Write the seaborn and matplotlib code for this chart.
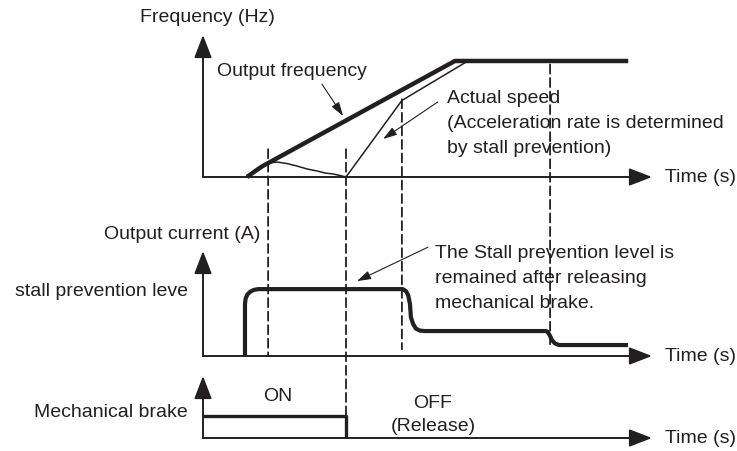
import matplotlib.pyplot as plt
from matplotlib.patches import ConnectionPatch
import seaborn as sns

sns.set_style("white")
plt.rcParams['font.family'] = ['Liberation Sans', 'DejaVu Sans']

INK = '#231f20'
W, H = 737, 452

# time runs 0..100 along every time axis
t_out = [9.8, 11.6, 13.1, 14.5, 56.1, 94.7]
f_out = [0, 5, 9, 12, 100, 100]

t_act = [14.5, 16.5, 18.7, 20.9, 23.2, 25.4, 27.2, 29.0, 30.5, 31.85, 44.3, 59.0]
f_act = [12, 12.9, 11.6, 9.5, 6.9, 5.2, 3.4, 2.6, 1.3, 0, 66, 100]

t_cur = [9.35, 9.35, 9.5, 9.9, 10.5, 11.3, 12.3, 44.5, 45.2, 45.7, 46.1, 46.3, 46.8, 47.4,
         48.3, 49.4, 76.4, 76.8, 77.3, 77.7, 78.4, 79.3, 94.65]
c_cur = [0, 78, 86, 92, 96, 98.8, 100, 100, 97, 91, 77.6, 58, 47.8, 41,
         38, 37.3, 37.3, 35.8, 29.9, 23.9, 18.7, 16.4, 16.4]

t_brake = [0, 31.85, 31.85]
b_brake = [1, 1, 0]

# dashed markers: time, start on frequency panel, end panel, end value
t_marks = [14.5, 31.85, 44.3, 77.3]
f_mark_start = [24, 24, 67, 97]
mark_end_panel = ['cur', 'brake', 'cur', 'cur']
mark_end_value = [0, 1, 10, 17]


def px(x, y):
    return x / W, 1 - y / H


fig = plt.figure(figsize=(W / 100, H / 100), dpi=100)


def panel(bottom, top, ymax):
    ax = fig.add_axes([203 / W, 1 - bottom / H, 449 / W, (bottom - top) / H])
    ax.set_xlim(0, 100)
    ax.set_ylim(0, ymax)
    ax.set_axis_off()
    axis_arrow = dict(arrowstyle='-|>,head_length=0.7,head_width=0.27', mutation_scale=20,
                      lw=1.4, color=INK, shrinkA=0, shrinkB=0)
    ax.annotate('', xy=(100, 0), xytext=(0, 0), arrowprops=axis_arrow, annotation_clip=False)
    ax.annotate('', xy=(0, ymax), xytext=(0, 0), arrowprops=axis_arrow, annotation_clip=False)
    return ax


ax_f = panel(178, 36, 122.4)
ax_c = panel(357, 252, 157)
ax_b = panel(439, 377, 2.82)

line_kw = dict(color=INK, estimator=None, sort=False, solid_joinstyle='round',
               solid_capstyle='butt', clip_on=False, legend=False)
sns.lineplot(x=t_out, y=f_out, ax=ax_f, lw=3.2, **line_kw)
sns.lineplot(x=t_act, y=f_act, ax=ax_f, lw=1.1, **line_kw)
sns.lineplot(x=t_cur, y=c_cur, ax=ax_c, lw=3.0, **line_kw)
sns.lineplot(x=t_brake, y=b_brake, ax=ax_b, lw=2.4, **line_kw)
for ax in (ax_f, ax_c, ax_b):
    ax.set_xlim(0, 100)
    ax.set_axis_off()

panels = {'cur': ax_c, 'brake': ax_b}
for t, fs, p, v in zip(t_marks, f_mark_start, mark_end_panel, mark_end_value):
    con = ConnectionPatch(xyA=(t, fs), coordsA=ax_f.transData,
                          xyB=(t, v), coordsB=panels[p].transData,
                          linestyle=(0, (5, 2.5)), lw=1.3, color=INK)
    fig.add_artist(con)

thin_arrow = dict(arrowstyle='-|>,head_length=0.7,head_width=0.22', mutation_scale=12,
                  lw=0.8, color=INK, shrinkA=0, shrinkB=0)
ax_f.annotate('', xy=(31.2, 52.6), xytext=(26.5, 80), arrowprops=thin_arrow, annotation_clip=False)
ax_f.annotate('', xy=(40.1, 32.8), xytext=(52.3, 64.7), arrowprops=thin_arrow, annotation_clip=False)
ax_c.annotate('', xy=(34.3, 112), xytext=(50.1, 162.7), arrowprops=thin_arrow, annotation_clip=False)

fs = 14
txt = dict(color=INK, fontsize=fs)
fig.text(*px(207, 17), 'Frequency (Hz)', ha='center', va='center', **txt)
fig.text(*px(217, 71), 'Output frequency', ha='left', va='center', **txt)
fig.text(*px(447, 90), 'Actual speed\n(Acceleration rate is determined\nby stall prevention)',
         ha='left', va='top', linespacing=1.6, **txt)
for y in (178, 357, 439):
    fig.text(*px(665, y), 'Time (s)', ha='left', va='center', **txt)
fig.text(*px(260, 235), 'Output current (A)', ha='right', va='center', **txt)
fig.text(*px(188, 292), 'stall prevention leve', ha='right', va='center', **txt)
fig.text(*px(435, 245), 'The Stall prevention level is\nremained after releasing\nmechanical brake.',
         ha='left', va='top', linespacing=1.6, **txt)
fig.text(*px(278, 397), 'ON', ha='center', va='center', **txt)
fig.text(*px(433, 415), 'OFF\n(Release)', ha='center', va='center', linespacing=1.5, **txt)
fig.text(*px(188, 413), 'Mechanical brake', ha='right', va='center', **txt)

fig.savefig('out.png', dpi=100, facecolor='white')
